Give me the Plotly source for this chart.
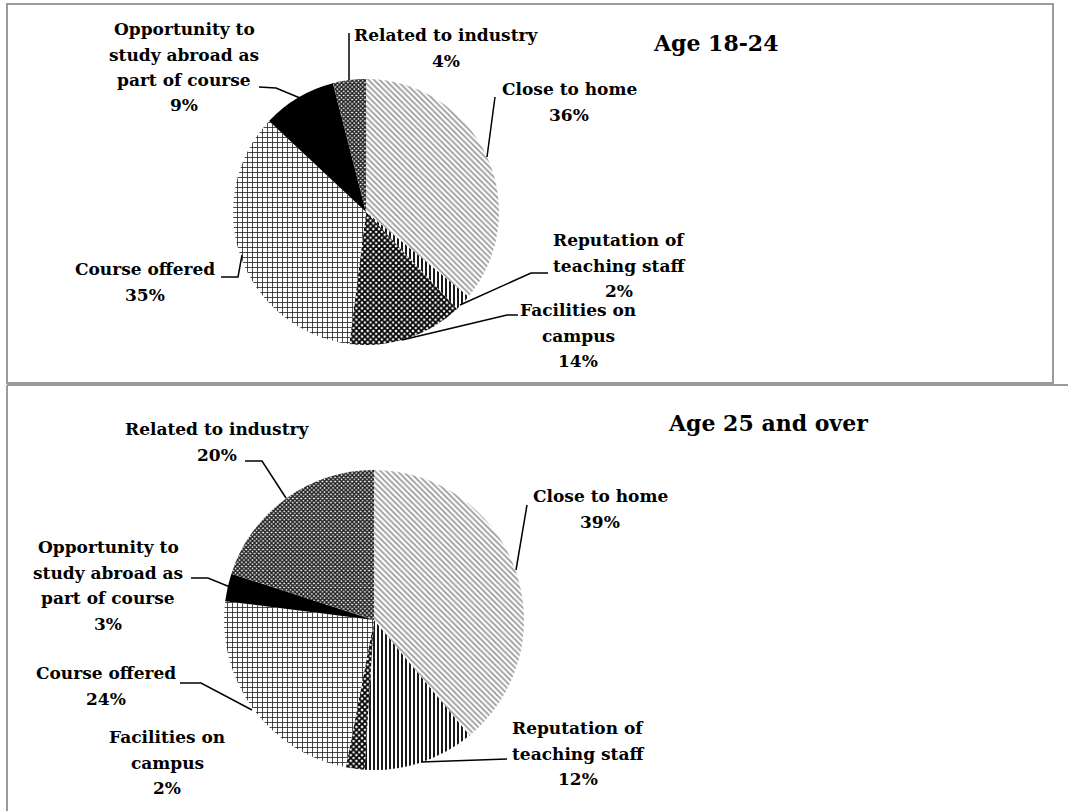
import plotly.graph_objects as go

# ---------------- data ----------------
categories = ["Close to home", "Reputation of teaching staff", "Facilities on campus",
              "Course offered", "Opportunity to study abroad as part of course",
              "Related to industry"]
wrapped = ["Close to home", "Reputation of<br>teaching staff", "Facilities on<br>campus",
           "Course offered", "Opportunity to<br>study abroad as<br>part of course",
           "Related to industry"]
values_18_24 = [36, 2, 14, 35, 9, 4]
values_25_over = [39, 12, 2, 24, 3, 20]
titles = ["Age 18-24", "Age 25 and over"]

# ---------------- styles ----------------
W, H = 1068, 811
FONT = "DejaVu Serif"
pat_shape = ["\\", "|", "x", "+", "", "x"]
pat_fg = ["#9a9a9a", "#000000", "#000000", "#222222", "#000000", "#222222"]
pat_bg = ["#ffffff", "#ffffff", "#ffffff", "#ffffff", "#000000", "#ffffff"]
pat_size = [4, 4, 4, 5, 8, 3]
pat_sol = [0.45, 0.45, 0.7, 0.3, 1.0, 0.75]
slice_colors = ["#ffffff", "#ffffff", "#ffffff", "#ffffff", "#000000", "#ffffff"]


def px(x, y):
    return x / W, 1 - y / H


def dom(cx, cy, r):
    return dict(x=[(cx - r) / W, (cx + r) / W], y=[1 - (cy + r) / H, 1 - (cy - r) / H])


fig = go.Figure()
pies = [(values_18_24, dom(366, 212, 133)), (values_25_over, dom(374, 620, 150))]
for vals, d in pies:
    fig.add_trace(go.Pie(
        labels=categories, values=vals, sort=False, direction="clockwise", rotation=0,
        textinfo="none", hoverinfo="label+percent", showlegend=False, domain=d,
        marker=dict(colors=slice_colors, line=dict(width=0),
                    pattern=dict(shape=pat_shape, fgcolor=pat_fg, bgcolor=pat_bg,
                                 size=pat_size, solidity=pat_sol)),
    ))

# label layout (pixel centers of first line) for each chart, per category index
label_pos = [
    {0: (569, 89), 1: (619, 240), 2: (578, 310), 3: (145, 269), 4: (184, 29), 5: (446, 35)},
    {0: (600, 496), 1: (578, 728), 2: (167, 737), 3: (106, 673), 4: (108, 547), 5: (217, 429)},
]
title_pos = [(715, 43), (768, 423)]
leaders = [
    [[(259, 87), (276, 88), (300, 98)], [(349, 33), (349, 80)], [(495, 97), (487, 157)],
     [(548, 273), (531, 273), (460, 305)], [(518, 315), (507, 315), (402, 340)],
     [(221, 277), (238, 277), (242, 255)]],
    [[(245, 461), (262, 461), (286, 498)], [(527, 505), (516, 570)],
     [(191, 578), (208, 578), (230, 587)], [(180, 683), (201, 683), (252, 710)],
     [(507, 759), (421, 762)]],
]
LINE_GAP = 25.5
annotations = []
for ci, vals in enumerate([values_18_24, values_25_over]):
    for i, (cat, v) in enumerate(zip(wrapped, vals)):
        lines = cat.split("<br>") + [f"{v}%"]
        x0, y0 = label_pos[ci][i]
        for k, t in enumerate(lines):
            xx, yy = px(x0, y0 + k * LINE_GAP)
            annotations.append(dict(x=xx, y=yy, xref="paper", yref="paper", text=t,
                                    showarrow=False, xanchor="center", yanchor="middle",
                                    font=dict(family=FONT, size=17, color="#000000", weight="bold")))
    tx, ty = px(*title_pos[ci])
    annotations.append(dict(x=tx, y=ty, xref="paper", yref="paper", text=titles[ci],
                            showarrow=False, xanchor="center", yanchor="middle",
                            font=dict(family=FONT, size=22, color="#000000", weight="bold")))

shapes = []
for chart in leaders:
    for pts in chart:
        p = [px(a, b) for a, b in pts]
        path = "M " + " L ".join(f"{a},{b}" for a, b in p)
        shapes.append(dict(type="path", path=path, xref="paper", yref="paper",
                           line=dict(color="#000000", width=1.5)))

# chart borders
border = dict(color="#9a9a9a", width=2)
shapes.append(dict(type="rect", xref="paper", yref="paper",
                   x0=7 / W, x1=1053 / W, y0=1 - 383 / H, y1=1 - 4 / H, line=border))
shapes.append(dict(type="line", xref="paper", yref="paper",
                   x0=7 / W, x1=1, y0=1 - 385 / H, y1=1 - 385 / H, line=border))
shapes.append(dict(type="line", xref="paper", yref="paper",
                   x0=7 / W, x1=7 / W, y0=0, y1=1 - 385 / H, line=border))

fig.update_layout(width=W, height=H, margin=dict(l=0, r=0, t=0, b=0),
                  paper_bgcolor="#ffffff", plot_bgcolor="#ffffff",
                  annotations=annotations, shapes=shapes)
fig.write_html("out.html", config={"displayModeBar": False},
               post_script="document.body.style.margin='0';document.body.style.overflow='hidden';")
